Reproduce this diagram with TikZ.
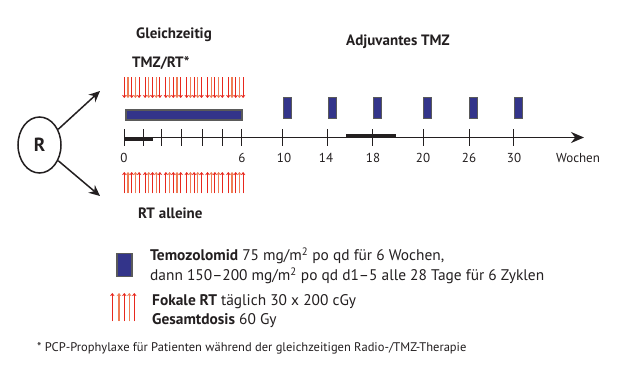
\documentclass[tikz,border=0pt]{standalone}
\usepackage{fontspec}
\setmainfont{PT Sans}
\usetikzlibrary{arrows.meta,shapes.geometric}
\definecolor{tmzblue}{HTML}{33348A}
\definecolor{tmzedge}{HTML}{5A5A5A}
\definecolor{rtred}{HTML}{E8281E}
\definecolor{rtorange}{HTML}{EF7C55}
\definecolor{ink}{HTML}{231F20}
\tikzset{
  lbl/.style={text=ink, inner sep=0pt},
  title/.style={lbl, font=\fontsize{15}{18}\selectfont\bfseries},
  num/.style={lbl, font=\fontsize{13}{15}\selectfont},
  legend/.style={lbl, font=\fontsize{15.4}{18}\selectfont, anchor=base west},
  tmzbar/.style={fill=tmzblue, draw=tmzedge, line width=1.2pt},
  tickline/.style={draw=ink, line width=1pt},
  rtarrow/.style={line width=1.1pt, -{Stealth[length=3pt,width=4.5pt]}},
  branch/.style={draw=ink, line width=1.5pt, -{Stealth[length=11pt,width=10pt]}},
}
\begin{document}
\begin{tikzpicture}[x=1pt,y=-1pt]
\useasboundingbox[fill=white] (0,0) rectangle (620,372);

% randomisation circle and branches
\node[draw=ink, line width=1.5pt, ellipse, minimum width=43pt, minimum height=56pt, inner sep=0pt,
      font=\fontsize{19}{22}\selectfont\bfseries, text=ink] (R) at (39.5,145) {R};
\coordinate (up) at (100,91);
\coordinate (down) at (100,196);
\draw[branch] (R.40) -- (up);
\draw[branch] (R.-40) -- (down);

% titles
\node[title] (gl) at (174,35) {Gleichzeitig};
\node[title, anchor=west] (tr) at (132,63) {TMZ/RT*};
\node[title] (adj) at (398,42) {Adjuvantes TMZ};
\node[title, anchor=west] (ra) at (138,213) {RT alleine};

% time axis
\coordinate (a0) at (124,137.5);
\coordinate (aend) at (584,137.5);
\draw[draw=ink, line width=1.8pt, -{Stealth[length=13pt,width=11pt]}] (a0) -- (aend);
\draw[draw=ink, line width=3.5pt] (124,139.5) -- (153,139.5);
\draw[draw=ink, line width=3.5pt] (346,136) -- (396,136);
\foreach \x in {124,143,161,181,202,222,241,282.5,327.5,372.5,423,469,513.5}
  \draw[tickline] (\x,129) -- (\x,146);

% axis labels
\foreach \x/\t in {124/0,242/6,284/10,326/14,373/18,423/20,469/26,514/30}
  \node[num] at (\x,158) {\t};
\node[num] (wo) at (578,158) {Wochen};

% TMZ bars
\node[tmzbar, minimum width=116pt, minimum height=10pt, inner sep=0pt] (cbar) at (184,115) {};
\foreach \x in {282.5,327.5,372.5,422.5,469,513.5}
  \node[tmzbar, minimum width=8pt, minimum height=21pt, inner sep=0pt, anchor=north west] at (\x,96.5) {};

% RT arrows (concurrent, pointing down) and RT alone (pointing up)
\foreach \g in {0,...,5}
  \foreach \k in {0,...,4}{
    \pgfmathsetmacro{\xx}{124.3+\g*20.8+\k*3.7}
    \pgfmathtruncatemacro{\kpar}{mod(\k,2)}
    \ifnum\kpar=0 \def\col{rtred}\else\def\col{rtorange}\fi
    \draw[rtarrow, draw=\col, fill=\col] (\xx,77) -- (\xx,98);
    \draw[rtarrow, draw=\col, fill=\col] (\xx,193) -- (\xx,172);
  }

% legend
\node[tmzbar, minimum width=15pt, minimum height=23pt, inner sep=0pt] (lsq) at (124.5,265) {};
\foreach \x/\c in {112.3/rtred,119/rtorange,124.3/rtred,129.3/rtorange,134.3/rtred}
  \draw[rtarrow, draw=\c, fill=\c] (\x,321) -- (\x,293);
\node[legend] (l1) at (150,260.5) {\textbf{Temozolomid} 75 mg/m\textsuperscript{2} po qd für 6 Wochen,};
\node[legend] (l2) at (150,280.5) {dann 150–200 mg/m\textsuperscript{2} po qd d1–5 alle 28 Tage für 6 Zyklen};
\node[legend] (l3) at (152,305.5) {\textbf{Fokale RT} täglich 30 x 200 cGy};
\node[legend] (l4) at (152,324.5) {\textbf{Gesamtdosis} 60 Gy};
\node[lbl, anchor=base west, font=\fontsize{12.5}{14}\selectfont] (fn) at (37,351) {* PCP-Prophylaxe für Patienten während der gleichzeitigen Radio-/TMZ-Therapie};
\end{tikzpicture}
\end{document}
